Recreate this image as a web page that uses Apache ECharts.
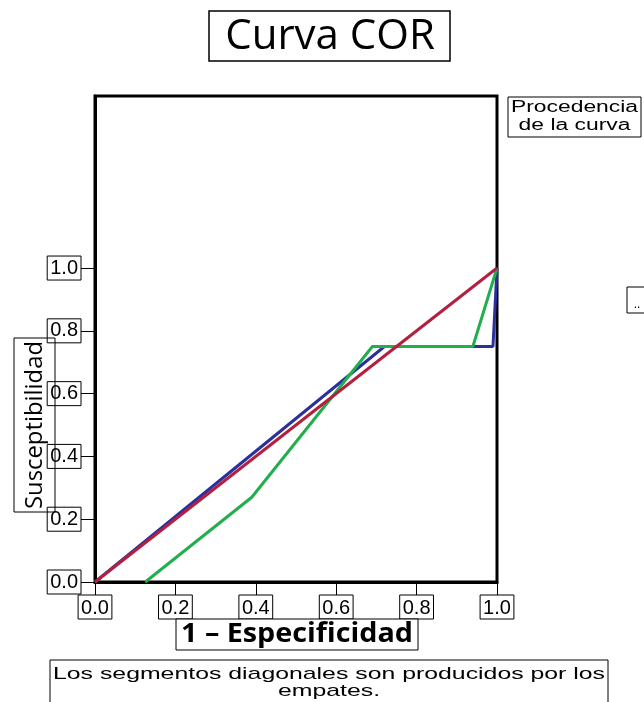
<!DOCTYPE html>
<html>
<head>
<meta charset="utf-8">
<title>Curva COR</title>
<script src="https://cdn.jsdelivr.net/npm/echarts@6/dist/echarts.min.js"></script>
<style>
  html, body { margin: 0; padding: 0; background: #ffffff; }
  #chart { width: 644px; height: 702px; }
</style>
</head>
<body>
<div id="chart"></div>
<script>
// Tick positions shown on both axes
const xTicks = [0, 0.2, 0.4, 0.6, 0.8, 1.0];
const yTicks = [0, 0.2, 0.4, 0.6, 0.8, 1.0];

// ROC curves: 1 - especificidad (x) vs susceptibilidad (y)
const blueX  = [0, 0.72, 0.99, 1.0];
const blueY  = [0, 0.75, 0.75, 1.0];
const greenX = [0.125, 0.39, 0.69, 0.94, 1.0];
const greenY = [0, 0.27, 0.75, 0.75, 1.0];
// Reference diagonal
const redX   = [0, 1.0];
const redY   = [0, 1.0];

const zip = (xs, ys) => xs.map((x, i) => [x, ys[i]]);

// Horizontal scale needed so a text run fills a given width
const measureCtx = document.createElement('canvas').getContext('2d');
function fitScale(text, font, width) {
  measureCtx.font = font;
  return width / measureCtx.measureText(text).width;
}

const chart = echarts.init(document.getElementById('chart'), null, { renderer: 'canvas' });

const tickLabel = {
  fontFamily: 'Liberation Sans',
  fontSize: 20,
  color: '#000',
  borderColor: '#000',
  borderWidth: 1,
  padding: [3, 3, 1, 3],
  formatter: v => v.toFixed(1)
};

const fontFoot = '17px "Liberation Sans"';
const foot1 = 'Los segmentos diagonales son producidos por los';
const foot2 = 'empates.';
const footScale = fitScale(foot1, fontFoot, 552);

const fontLeg = '16px "Liberation Sans"';
const legScale = fitScale('Procedencia', fontLeg, 127);

const fontX = 'bold 26px "Open Sans"';
const xName = '1 \u2013 Especificidad';
const xScale = fitScale(xName, fontX, 232);

const fontY = '23px "Open Sans"';
const yName = 'Susceptibilidad';
const yScale = fitScale(yName, fontY, 168);

function txt(x, y, text, font, sx, extra) {
  return Object.assign({
    type: 'text', x: x, y: y, scaleX: sx, z: 10,
    style: { text: text, font: font, fill: '#000', align: 'center', verticalAlign: 'middle' }
  }, extra || {});
}
function box(x, y, w, h, lw, fill) {
  return {
    type: 'rect', z: 9,
    shape: { x: x, y: y, width: w, height: h },
    style: { fill: fill || '#fff', stroke: '#000', lineWidth: lw || 1 }
  };
}

chart.setOption({
  animation: false,
  backgroundColor: '#ffffff',
  grid: {
    left: 95, right: 147, top: 96, bottom: 120,
    show: true, borderColor: '#000', borderWidth: 3, backgroundColor: 'transparent'
  },
  xAxis: {
    type: 'value', min: 0, max: 1.0,
    axisLine: { show: true, lineStyle: { color: '#000', width: 3 } },
    axisTick: { show: true, length: 13, customValues: xTicks, lineStyle: { color: '#000', width: 1 } },
    axisLabel: Object.assign({ margin: 13, customValues: xTicks }, tickLabel),
    splitLine: { show: false }
  },
  yAxis: {
    type: 'value', min: 0, max: 1.548,
    axisLine: { show: true, lineStyle: { color: '#000', width: 3 } },
    axisTick: { show: true, length: 14, customValues: yTicks, lineStyle: { color: '#000', width: 1 } },
    axisLabel: Object.assign({ margin: 14, customValues: yTicks }, tickLabel),
    splitLine: { show: false }
  },
  series: [
    { type: 'line', data: zip(blueX, blueY), showSymbol: false, z: 2,
      lineStyle: { color: '#2b309c', width: 3 } },
    { type: 'line', data: zip(greenX, greenY), showSymbol: false, z: 3,
      lineStyle: { color: '#22ae4c', width: 3 } },
    { type: 'line', data: zip(redX, redY), showSymbol: false, z: 4,
      lineStyle: { color: '#b3203f', width: 3 } }
  ],
  graphic: [
    // Title
    box(209, 11, 241, 50, 1.5),
    txt(330, 37, 'Curva COR', '42px "Open Sans"', 1),
    // Legend heading and truncated legend box
    box(508, 97, 133, 40),
    txt(574.5, 108, 'Procedencia', fontLeg, legScale),
    txt(574.5, 126, 'de la curva', fontLeg, legScale),
    box(627, 287, 30, 26),
    txt(637, 305, '..', '12px "Liberation Sans"', 1),
    // Axis titles
    box(176, 619, 242, 31),
    txt(297, 635, xName, fontX, xScale),
    box(14, 338, 41, 174, 1, 'transparent'),
    txt(35, 425, yName, fontY, yScale, { rotation: Math.PI / 2 }),
    // Footnote
    box(50, 660, 558, 60),
    txt(329, 674, foot1, fontFoot, footScale),
    txt(329, 691, foot2, fontFoot, footScale)
  ]
});
</script>
</body>
</html>
